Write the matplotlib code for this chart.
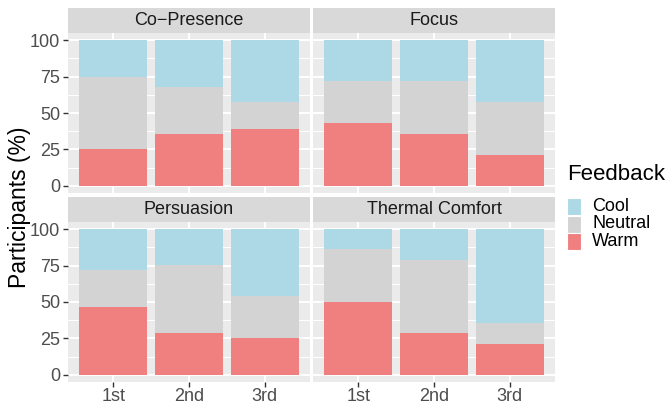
import matplotlib
matplotlib.use("Agg")
import matplotlib.pyplot as plt
import numpy as np
from matplotlib.patches import Rectangle

plt.rcParams['font.family'] = ['Liberation Sans', 'DejaVu Sans']

# ---- data (percent of participants) ----
facets = ["Co\u2212Presence", "Focus", "Persuasion", "Thermal Comfort"]
positions = ["1st", "2nd", "3rd"]
warm    = [[25.0, 35.5, 38.9], [43.0, 35.5, 21.1], [46.3, 28.4, 25.0], [50.0, 28.4, 20.9]]
neutral = [[50.0, 32.2, 18.5], [28.9, 36.4, 36.3], [25.5, 46.8, 28.9], [36.2, 50.3, 14.4]]
cool    = [[25.0, 32.3, 42.6], [28.1, 28.1, 42.6], [28.2, 24.8, 46.1], [13.8, 21.3, 64.7]]

levels = ["Cool", "Neutral", "Warm"]
colors = {"Cool": "#ADD8E6", "Neutral": "#D3D3D3", "Warm": "#F08080"}

W, H = 668, 405
fig = plt.figure(figsize=(W / 100, H / 100), dpi=100)

def fr(x0, y0, x1, y1):
    # pixel box (top-left origin) -> figure fraction
    return [x0 / W, 1 - y1 / H, (x1 - x0) / W, (y1 - y0) / H]

panels = [(68, 33, 310, 193), (313, 33, 555, 193),
          (68, 222, 310, 382), (313, 222, 555, 382)]
strip_h = 25

x = np.arange(1, 4)
for i, (x0, y0, x1, y1) in enumerate(panels):
    ax = fig.add_axes(fr(x0, y0, x1, y1))
    ax.set_facecolor("#EBEBEB")
    for s in ax.spines.values():
        s.set_visible(False)
    ax.set_xlim(0.4, 3.6)
    ax.set_ylim(-5, 105)
    for yv in [12.5, 37.5, 62.5, 87.5]:
        ax.axhline(yv, color="white", lw=0.7, zorder=0)
    for yv in [0, 25, 50, 75, 100]:
        ax.axhline(yv, color="white", lw=1.4, zorder=0)
    for xv in x:
        ax.axvline(xv, color="white", lw=1.4, zorder=0)

    w = np.array(warm[i]); n = np.array(neutral[i]); c = np.array(cool[i])
    ax.bar(x, w, width=0.9, color=colors["Warm"], zorder=2)
    ax.bar(x, n, width=0.9, bottom=w, color=colors["Neutral"], zorder=2)
    ax.bar(x, c, width=0.9, bottom=w + n, color=colors["Cool"], zorder=2)

    ax.set_yticks([0, 25, 50, 75, 100])
    ax.set_xticks(x)
    ax.tick_params(colors="#333333", length=3.5, width=1.0, labelsize=13,
                   labelcolor="#4D4D4D", pad=2)
    ax.tick_params(axis="x", pad=0.5)
    if i % 2 == 0:
        ax.set_yticklabels(["0", "25", "50", "75", "100"])
    else:
        ax.tick_params(axis="y", length=0, labelleft=False)
    if i >= 2:
        ax.set_xticklabels(positions)
    else:
        ax.tick_params(axis="x", length=0, labelbottom=False)

    sax = fig.add_axes(fr(x0, y0 - strip_h, x1, y0))
    sax.set_facecolor("#D9D9D9")
    sax.set_xticks([]); sax.set_yticks([])
    for s in sax.spines.values():
        s.set_visible(False)
    sax.text(0.5, 0.5, facets[i], ha="center", va="center", fontsize=13,
             color="#1A1A1A", transform=sax.transAxes)

fig.text(20 / W, 1 - 207 / H, "Participants (%)", rotation=90, ha="center",
         va="center", fontsize=16.5, color="black")

# legend
fig.text(567 / W, 1 - 175 / H, "Feedback", ha="left", va="center",
         fontsize=16, color="black")
key_y = [198, 215.5, 233]
for lev, ky in zip(levels, key_y):
    fig.patches.append(Rectangle((567 / W, 1 - (ky + 17) / H), 14 / W, 17 / H,
                                 transform=fig.transFigure, fc=colors[lev],
                                 ec="white", lw=0.8))
    fig.text(592 / W, 1 - (ky + 8.5) / H, lev, ha="left", va="center",
             fontsize=13, color="black")

fig.savefig("out.png", dpi=100)
